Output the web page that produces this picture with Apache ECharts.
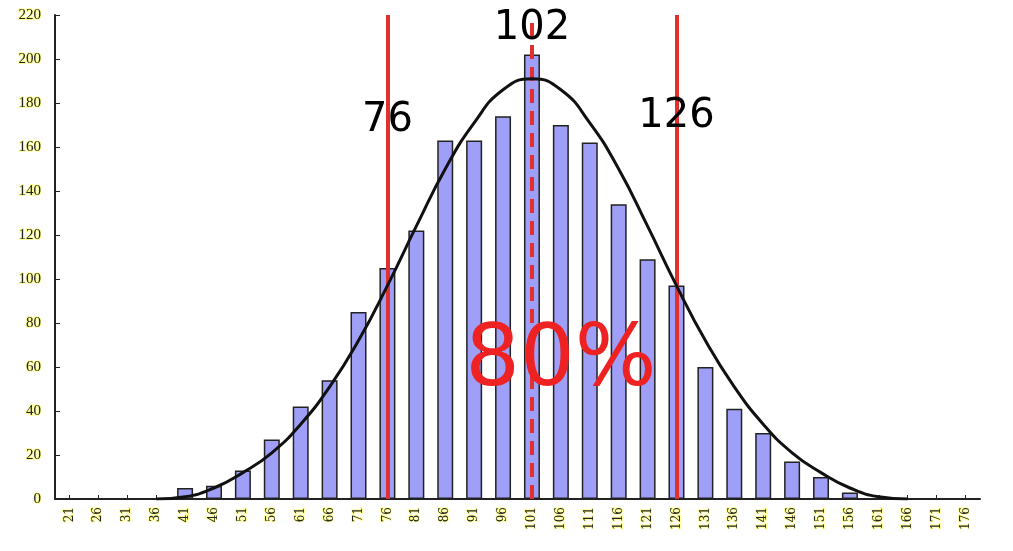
<!DOCTYPE html>
<html><head><meta charset="utf-8">
<script src="https://cdn.jsdelivr.net/npm/echarts@6/dist/echarts.min.js"></script>
<style>html,body{margin:0;padding:0;background:#fff}#c{width:1013px;height:551px}</style>
</head><body><div id="c"></div>
<script>
var categories = ['21','26','31','36','41','46','51','56','61','66','71','76','81','86','91','96','101','106','111','116','121','126','131','136','141','146','151','156','161','166','171','176'];
var counts = [0,0,0,0,5,6,13,27,42,54,85,105,122,163,163,174,202,170,162,134,109,97,60,41,30,17,10,3,0,0,0,0];
var curve = [null,null,null,0,1,5,12,21,34,51,72,97,124,150,171,186,191,186,171,150,124,97,72,51,34,21,12,5,1,0,null,null];
var yTicks = {min:0,max:220,interval:20};
var markers = [{cat:'76',label:'76',y:172},{cat:'101',label:'102',y:214},{cat:'126',label:'126',y:174}];
var pctText = {cat:'106',y:62,text:'80%'};

var chart = echarts.init(document.getElementById('c'));
chart.setOption({
  animation:false,
  backgroundColor:'#fff',
  grid:{left:55,right:33,top:15,bottom:52},
  xAxis:{type:'category',data:categories,
    axisLine:{lineStyle:{color:'#222',width:2}},
    axisTick:{show:true,inside:true,length:4,alignWithLabel:true,lineStyle:{color:'#222'}},
    axisLabel:{rotate:90,fontSize:12,color:'#222',fontFamily:'DejaVu Serif',interval:0,textBorderColor:'#ffff99',textBorderWidth:2}},
  yAxis:{type:'value',min:yTicks.min,max:yTicks.max,interval:yTicks.interval,
    splitLine:{show:false},
    axisLine:{show:true,lineStyle:{color:'#222',width:2}},
    axisTick:{show:true,inside:true,length:5,lineStyle:{color:'#222'}},
    axisLabel:{fontSize:15,color:'#222',fontFamily:'Liberation Serif',textBorderColor:'#ffff99',textBorderWidth:2,margin:14}},
  series:[
    {type:'bar',data:counts,barWidth:16,
      itemStyle:{color:'#9f9ff7',borderColor:'#222',borderWidth:1.5}},
    {type:'line',data:curve,smooth:true,symbol:'none',connectNulls:false,
      lineStyle:{color:'#111',width:3},z:5,
      markLine:{symbol:'none',silent:true,label:{show:false},
        data:[
          {xAxis:'76',lineStyle:{color:'#e03030',width:4,type:'solid'}},
          {xAxis:'101',lineStyle:{color:'#e03030',width:4,type:[14,8]}},
          {xAxis:'126',lineStyle:{color:'#e03030',width:4,type:'solid'}}
        ]},
      markPoint:{symbol:'circle',symbolSize:0,
        data:markers.map(function(m){return {coord:[m.cat,m.y],value:m.label,
          label:{show:true,formatter:m.label,color:'#000',fontSize:40,fontFamily:'DejaVu Sans'}};}).concat([
          {coord:[pctText.cat,pctText.y],label:{show:true,formatter:pctText.text,color:'#ee2222',fontSize:86,fontFamily:'DejaVu Sans'}}
        ])}
    }
  ]
});
</script></body></html>
